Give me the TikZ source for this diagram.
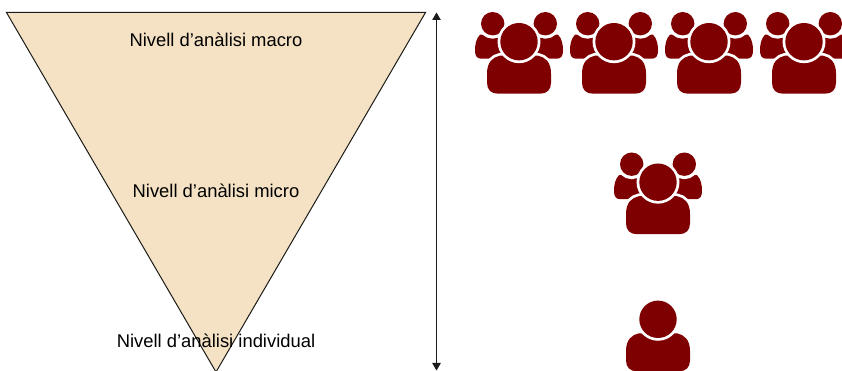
\documentclass[tikz,border=0pt]{standalone}
\usepackage{fontspec}
\setmainfont{Liberation Sans}
\usetikzlibrary{arrows.meta}
\definecolor{ink}{HTML}{1B1B19}
\definecolor{wedge}{HTML}{F5E2C4}
\definecolor{maroon}{HTML}{7F0000}
\tikzset{
  every picture/.style={line width=1pt,font=\fontsize{18.4}{22}\selectfont},
  lab/.style={text=black,inner sep=0pt,anchor=center},
  gapped/.style={fill=maroon,preaction={draw=white,line width=5.5pt}},
  gappedwide/.style={fill=maroon,preaction={draw=white,line width=6.5pt}},
  pics/person/.style={code={
    \path[gapped] (-19,-14) .. controls (-26,-15.5) and (-32,-20) .. (-32,-32)
      -- (-32,-41) .. controls (-32,-48) and (-28,-52) .. (-21,-52)
      -- (21,-52) .. controls (28,-52) and (32,-48) .. (32,-41)
      -- (32,-32) .. controls (32,-20) and (26,-15.5) .. (19,-14) -- cycle;
    \path[gapped] (0,0) circle (18.7);
  }},
  pics/crowd/.style={code={
    \foreach \s in {-1,1} {
      \fill[maroon] (\s*39,7) .. controls (\s*43,3) and (\s*44,-3) .. (\s*44,-9)
        .. controls (\s*44,-14) and (\s*42,-17) .. (\s*38,-17)
        -- (\s*15,-17) -- (\s*15,7) -- cycle;
      \path[gappedwide] (\s*26.3,18) circle (11.7);
    }
    \pic {person};
  }},
}
\begin{document}
\begin{tikzpicture}[x=1pt,y=1pt]
  \useasboundingbox (0,0) rectangle (842,371);
  % inverted pyramid
  \coordinate (tl) at (6.5,358.5);
  \coordinate (tr) at (425.5,358.5);
  \coordinate (ap) at (216,-1);
  \draw[ink,fill=wedge,line join=miter] (tl) -- (tr) -- (ap) -- cycle;
  \node[lab] (macro) at (216,331) {Nivell d’anàlisi macro};
  \node[lab] (micro) at (216,180) {Nivell d’anàlisi micro};
  \node[lab] (indiv) at (216,30) {Nivell d’anàlisi individual};
  % scale arrow
  \coordinate (up) at (436.5,358.5);
  \coordinate (dn) at (436.5,0.5);
  \draw[{Triangle[length=7.5pt,width=8.5pt]}-{Triangle[length=7.5pt,width=8.5pt]},ink] (up) -- (dn);
  % figures
  \foreach \x in {519,614,709,804} \pic at (\x,329.3) {crowd};
  \pic at (658,188.8) {crowd};
  \pic at (658,51.7) {person};
\end{tikzpicture}
\end{document}
